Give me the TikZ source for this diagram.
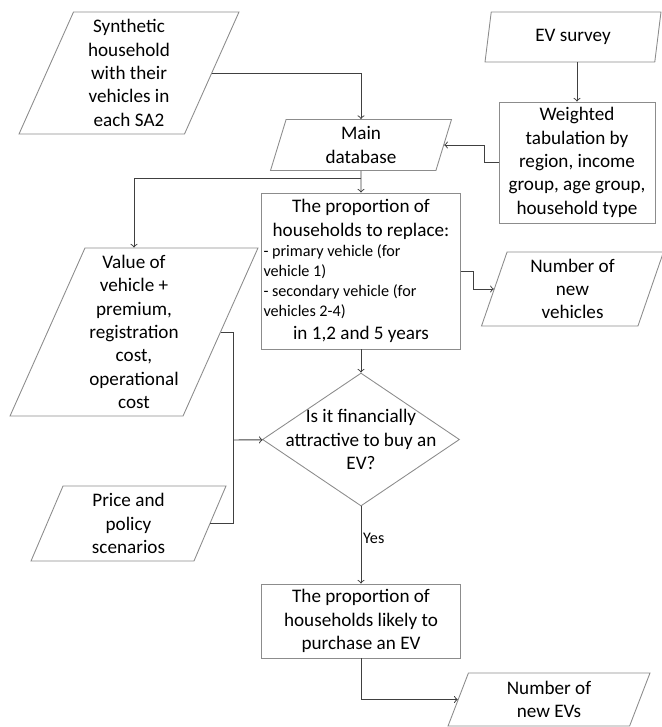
\documentclass[tikz,border=0pt]{standalone}
\usepackage{fontspec}
\setmainfont{Carlito}
\usetikzlibrary{shapes.geometric}
\definecolor{boxgray}{gray}{0.55}
\definecolor{linegray}{gray}{0.25}
\begin{document}
\begin{tikzpicture}[x=0.02cm, y=-0.02cm,
		base/.style={draw=boxgray, line width=0.5pt, font=\fontsize{10.9}{13.3}\selectfont, align=center},
		io/.style={base, trapezium, trapezium left angle=65, trapezium right angle=115, trapezium stretches body, inner xsep=-2pt, inner ysep=0pt},
		proc/.style={base, rectangle, inner sep=1pt},
		decide/.style={base, diamond, inner xsep=-0.8cm, inner ysep=-0.4cm},
		arr/.style={->, draw=linegray, line width=0.55pt},
		lnk/.style={draw=linegray, line width=0.55pt}]
			\useasboundingbox (0,0) rectangle (662,727);
			% inputs and processes
			\draw (129,73) node[io, trapezium left angle=63, trapezium right angle=117, minimum width=4.4cm, minimum height=2.44cm] (synth) {Synthetic\\household\\with their\\vehicles in\\each SA2};
			\draw (573,37) node[io, trapezium left angle=68, trapezium right angle=112, minimum width=3.52cm, minimum height=1cm] (evs) {EV survey};
			\draw (577,162.5) node[proc, minimum width=3.12cm, minimum height=2.42cm] (wtab) {Weighted\\tabulation by\\region, income\\group, age group,\\household type};
			\draw (361,145) node[io, trapezium left angle=67, trapezium right angle=113, minimum width=3.62cm, minimum height=1.02cm] (maindb) {Main\\database};
			\draw (361,271) node[proc, text width=3.9cm, align=left, minimum height=3.12cm] (prop) {\spaceskip=0pt \xspaceskip=0pt {\centering The proportion of\\households to replace:\par}{\fontsize{9.2}{11.4}\selectfont - primary vehicle (for\\vehicle 1)\\- secondary vehicle (for\\vehicles 2-4)\par}{\centering in 1,2 and 5 years\par}};
			\draw (572.5,289) node[io, trapezium left angle=67, trapezium right angle=113, minimum width=3.64cm, minimum height=1.48cm] (newveh) {Number of\\new\\vehicles};
			\draw (134,332) node[io, trapezium left angle=64, trapezium right angle=116, minimum width=4.96cm, minimum height=3.36cm] (value) {Value of\\vehicle +\\premium,\\registration\\cost,\\operational\\cost};
			\draw (361,439.5) node[decide, minimum width=3.94cm, minimum height=2.66cm] (dec) {Is it financially\\attractive to buy an\\EV?};
			\draw (128.5,523.5) node[io, trapezium left angle=62, trapezium right angle=118, minimum width=3.9cm, minimum height=1.5cm] (price) {Price and\\policy\\scenarios};
			\draw (361,621) node[proc, minimum width=3.98cm, minimum height=1.48cm] (final) {The proportion of\\households likely to\\purchase an EV};
			\draw (549,699.5) node[io, trapezium left angle=61, trapezium right angle=119, minimum width=4.04cm, minimum height=1.06cm] (newev) {Number of\\new EVs};
			\coordinate (split) at (361,178);
			\coordinate (join) at (233,440);
			% connectors
			\draw[arr] (synth.east) -| (maindb);
			\draw[arr] (wtab.north |- evs.south) -- (wtab);
			\draw[arr] (wtab.west) -- ++(-14,0) |- (maindb);
			\draw[arr] (maindb) -- (prop);
			\draw[arr] (split) -| (value);
			\draw[arr] (prop.east) -- ++(13,0) |- (newveh);
			\draw[arr] (prop) -- (dec);
			\draw[lnk] (value.east) -| (join);
			\draw[lnk] (price.east) -| (join);
			\draw[arr] (join) -- (dec);
			\draw[arr] (dec) -- node[pos=0.42, right, inner sep=1pt, font=\fontsize{9.2}{11}\selectfont] {Yes} (final);
			\draw[arr] (final) |- (newev);
		\end{tikzpicture}
\end{document}
